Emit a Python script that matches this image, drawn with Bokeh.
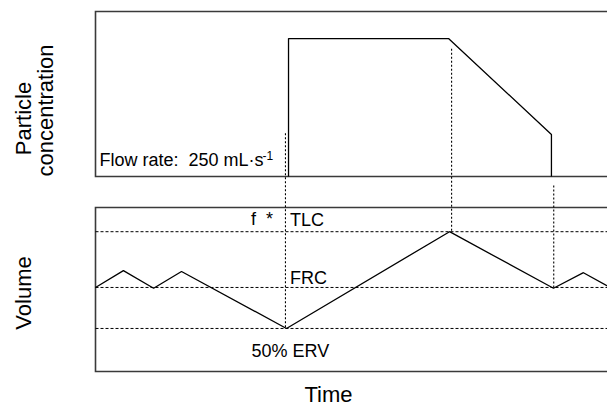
import math
from bokeh.plotting import figure
from bokeh.models import Range1d, Label
from bokeh.embed import file_html
from bokeh.resources import INLINE

# ---------------- data ----------------
# lung volume levels (L, schematic units)
TLC = 3.41
FRC = 2.05
ERV50 = 1.05

# volume trace (time in s, volume in L)
breath_time = [0.0, 1.09, 2.27, 3.36, 7.46, 13.83, 17.89, 19.06, 20.1]
breath_vol = [2.05, 2.46, 2.03, 2.44, 1.05, 3.41, 2.03, 2.41, 2.05]

# particle concentration trace (% of panel height)
conc_time = [7.54, 7.54, 13.79, 17.81, 17.81]
conc_vals = [0.0, 83.6, 83.6, 25.5, 0.0]

# dotted event markers
marker_time = [7.42, 13.91, 17.90]
marker_top_conc = [26.2, 77.4, -5.5]
marker_bottom_vol = [ERV50, TLC, FRC]

level_values = [TLC, FRC, ERV50]

# panel extents
conc_panel = (0.0, 100.0)
vol_panel = (0.0, 4.0)

# ---------------- ranges (frame = whole canvas) ----------------
W, H = 607, 407
x_lo, x_hi = -3.711, 20.0
vol_lo, vol_hi = -0.878, 9.049
conc_lo, conc_hi = -140.0, 106.67


def conc_to_vol(c):
    return (c - conc_lo) / (conc_hi - conc_lo) * (vol_hi - vol_lo) + vol_lo


FONT = "Liberation Sans, Arial, Helvetica, sans-serif"

p = figure(width=W, height=H, title=None,
           x_axis_type=None, y_axis_type=None,
           toolbar_location=None, output_backend="svg",
           x_range=Range1d(x_lo, x_hi), y_range=Range1d(vol_lo, vol_hi),
           min_border_left=0, min_border_right=0,
           min_border_top=0, min_border_bottom=0)
p.extra_y_ranges = {"conc": Range1d(conc_lo, conc_hi)}
p.outline_line_color = None
p.background_fill_color = "white"
p.border_fill_color = "white"

border_color = "#3a3a3a"
# panel frames (open on the right)
p.line([25, 0, 0, 25], [conc_panel[1], conc_panel[1], conc_panel[0], conc_panel[0]],
       y_range_name="conc", line_color=border_color, line_width=1.6, line_join="miter")
p.line([25, 0, 0, 25], [vol_panel[1], vol_panel[1], vol_panel[0], vol_panel[0]],
       line_color=border_color, line_width=1.6, line_join="miter")

# dashed level lines
for lv in level_values:
    p.line([0, 25], [lv, lv], line_color="black", line_width=1.0, line_dash="3 2")

# dotted vertical markers
for t, ctop, vb in zip(marker_time, marker_top_conc, marker_bottom_vol):
    p.line([t, t], [conc_to_vol(ctop), vb], line_color="black", line_width=1.1, line_dash="2 2")

# traces
p.line(conc_time, conc_vals, y_range_name="conc", line_color="black", line_width=1.3)
p.line(breath_time, breath_vol, line_color="black", line_width=1.3)


# ---------------- texts ----------------
# positions given as picture pixels (x from left, baseline y from top)
def lab(text, px, py, size, align="left", rotated=False):
    shift = 0.43 * size
    if rotated:
        sx, sy = px - shift, H - py
        angle = math.pi / 2
    else:
        sx, sy = px, H - py + shift
        angle = 0.0
    p.add_layout(Label(x=sx, y=sy, x_units="screen", y_units="screen", text=text,
                       text_font=FONT, text_font_size=f"{size}px", text_color="black",
                       text_align=align, text_baseline="alphabetic", angle=angle))


lab("Flow rate:\u00a0 250 mL\u00b7s", 99, 167, 18)
lab("-1", 262, 160, 12)
lab("f\u00a0\u00a0*", 250.5, 226, 18)
lab("TLC", 289.5, 227, 18)
lab("FRC", 289.5, 285, 18)
lab("50% ERV", 251, 358.5, 18)
lab("Time", 328, 403, 22, align="center")
lab("Volume", 32, 292.5, 22, align="center", rotated=True)
lab("Particle", 32, 118, 22, align="center", rotated=True)
lab("concentration", 54, 110, 22, align="center", rotated=True)

open("out.html", "w").write(file_html(p, INLINE))
